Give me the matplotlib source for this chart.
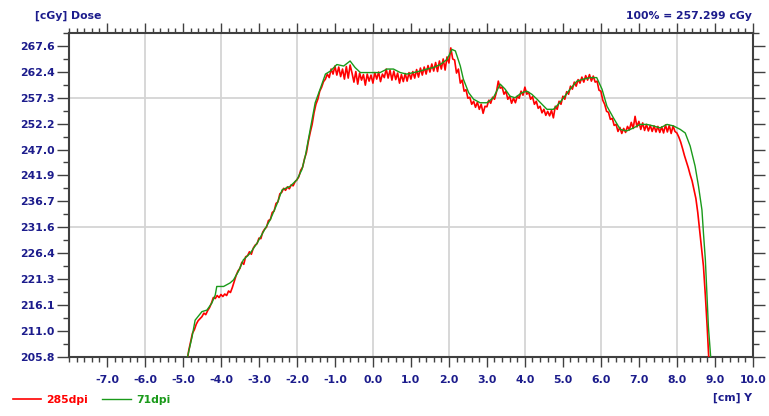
import numpy as np
import matplotlib
matplotlib.use("Agg")
import matplotlib.pyplot as plt
from matplotlib.ticker import FixedLocator, MultipleLocator

# normalisation shown top right
dose_100 = 257.299
pct_ticks = [80, 82, 84, 86, 88, 90, 92, 94, 96, 98, 100, 102, 104]
pct_minor = [81, 83, 85, 87, 89, 91, 93, 95, 97, 99, 101, 103, 105]
pct_grid = [90, 100]
x_ticks = [-7, -6, -5, -4, -3, -2, -1, 0, 1, 2, 3, 4, 5, 6, 7, 8, 9, 10]
x_grid = [-6, -4, -2, 0, 2, 4, 6, 8]

# 285dpi scan, sampled every 0.05 cm, one row per cm starting at -5.0
red_start = -5.0
red_step = 0.05
red_rows = [
    [203.0, 203.0, 204.5, 207.0, 208.8, 210.5, 211.2, 212.3, 213.0, 213.4,
     213.8, 214.5, 214.2, 215.0, 215.6, 216.5, 217.6, 217.4, 218.0, 217.6],
    [218.2, 217.8, 218.3, 218.0, 218.9, 218.6, 219.6, 220.8, 222.0, 222.9,
     223.4, 224.6, 224.2, 225.7, 225.9, 226.7, 226.2, 227.4, 228.0, 228.3],
    [229.4, 229.3, 230.6, 231.2, 231.6, 232.9, 233.1, 234.5, 234.8, 236.3,
     236.6, 238.2, 238.5, 239.3, 238.9, 239.6, 239.2, 240.0, 239.8, 240.6],
    [241.0, 241.6, 242.9, 243.5, 245.2, 246.4, 248.6, 250.4, 252.0, 254.3,
     256.0, 257.0, 258.6, 259.4, 260.5, 261.0, 262.0, 261.3, 263.0, 262.0],
    [263.6, 261.8, 263.4, 261.5, 263.0, 261.0, 263.5, 261.2, 263.8, 262.2,
     260.4, 262.5, 260.0, 262.2, 260.8, 261.9, 259.8, 262.0, 260.6, 261.8],
    [260.2, 262.3, 261.0, 262.4, 260.5, 262.0, 261.3, 263.0, 261.2, 262.8,
     260.8, 262.6, 260.9, 262.2, 260.2, 261.9, 260.5, 262.1, 260.6, 262.3],
    [261.0, 262.5, 261.2, 262.9, 261.4, 263.2, 261.8, 263.4, 262.0, 263.7,
     262.4, 264.0, 262.6, 264.3, 262.5, 264.6, 263.0, 265.0, 262.8, 265.4],
    [264.2, 267.2, 265.0, 264.8, 262.2, 263.0, 260.2, 260.8, 258.6, 258.9,
     257.2, 257.4, 256.0, 256.6, 255.4, 256.4, 255.0, 256.0, 254.2, 255.6],
    [255.5, 256.8, 256.2, 257.4, 257.0, 258.4, 260.6, 259.2, 259.4, 258.0,
     258.6, 257.0, 257.6, 256.2, 257.2, 256.3, 257.6, 257.2, 258.6, 257.8],
    [259.4, 258.0, 258.4, 257.0, 257.5, 256.0, 256.6, 255.2, 255.6, 254.3,
     255.0, 253.8, 254.6, 253.7, 254.8, 253.3, 255.6, 255.0, 256.6, 256.0],
    [257.6, 257.0, 258.5, 258.0, 259.6, 259.0, 260.4, 259.6, 260.9, 260.2,
     261.4, 260.4, 261.7, 260.8, 261.9, 260.6, 261.6, 260.4, 260.6, 258.8],
    [258.6, 256.8, 256.0, 254.6, 254.4, 253.0, 253.2, 251.8, 252.0, 250.6,
     251.4, 250.2, 251.2, 250.4, 251.6, 250.9, 252.4, 251.2, 253.6, 251.5],
    [252.6, 251.0, 252.3, 250.8, 252.0, 250.7, 251.8, 250.6, 251.7, 250.5,
     251.6, 250.4, 251.5, 250.3, 251.9, 250.5, 251.8, 250.2, 251.7, 250.6],
    [250.3, 249.5, 248.5, 247.2, 245.8, 244.6, 243.4, 242.0, 240.8, 239.0,
     237.3, 234.5, 231.0, 227.5, 223.8, 218.0, 211.5, 204.0, 203.0, 203.0],
]

# 71dpi scan
green_x = [-4.92, -4.88, -4.76, -4.68, -4.50, -4.37, -4.24, -4.15, -4.11, -3.93,
           -3.76, -3.67, -3.54, -3.41, -3.23, -3.05, -2.88, -2.70, -2.53, -2.39,
           -2.18, -2.00, -1.87, -1.78, -1.65, -1.52, -1.39, -1.25, -1.12, -0.95,
           -0.77, -0.60, -0.47, -0.33, -0.16, 0.02, 0.19, 0.37, 0.54, 0.72,
           0.89, 1.07, 1.24, 1.42, 1.59, 1.77, 1.95, 2.08, 2.17, 2.30,
           2.38, 2.52, 2.65, 2.82, 3.00, 3.17, 3.35, 3.48, 3.61, 3.74,
           3.92, 4.05, 4.18, 4.32, 4.45, 4.58, 4.75, 4.88, 5.02, 5.19,
           5.37, 5.54, 5.72, 5.89, 6.03, 6.16, 6.33, 6.51, 6.68, 6.86,
           7.03, 7.21, 7.38, 7.56, 7.74, 7.91, 8.09, 8.22, 8.35, 8.48,
           8.57, 8.66, 8.70, 8.75, 8.79, 8.83, 8.89, 8.92]
green_y = [204.0, 205.8, 209.8, 213.1, 214.8, 215.1, 216.5, 218.1, 219.8, 219.8,
           220.5, 221.1, 222.8, 225.1, 226.4, 228.4, 230.7, 233.1, 236.1, 239.0,
           239.7, 241.0, 243.0, 245.7, 251.0, 256.3, 259.0, 262.0, 262.6, 263.9,
           263.6, 264.6, 263.3, 262.3, 262.3, 262.3, 262.3, 263.0, 263.0, 262.3,
           262.0, 262.3, 262.6, 263.0, 263.3, 263.9, 264.9, 266.9, 266.6, 263.6,
           261.0, 258.3, 257.0, 256.3, 256.3, 257.3, 260.0, 259.0, 257.6, 257.3,
           258.3, 258.6, 258.0, 257.0, 256.0, 255.0, 255.0, 256.0, 257.3, 259.0,
           260.6, 261.0, 261.3, 261.3, 259.0, 255.6, 253.3, 251.0, 250.7, 251.3,
           252.0, 252.0, 251.7, 251.3, 252.0, 251.7, 251.0, 250.3, 247.7, 243.7,
           239.7, 235.0, 230.4, 225.1, 218.5, 211.8, 205.8, 204.0]

red_y = np.concatenate([np.array(r) for r in red_rows])
red_x = red_start + red_step * np.arange(len(red_y))

navy = "#1c1c8c"
red = "#ff0000"
green = "#1a9a1a"
frame = "#404040"

plt.rcParams["font.family"] = "DejaVu Sans"
plt.rcParams["font.weight"] = "bold"

fig = plt.figure(figsize=(7.69, 4.16), dpi=100)
ax = fig.add_axes([0.0897, 0.1425, 0.8893, 0.7782])

ax.plot(red_x, red_y, color=red, lw=1.2, label="285dpi", zorder=3)
ax.plot(green_x, green_y, color=green, lw=1.0, label="71dpi", zorder=4)

ax.set_xlim(-8, 10)
ax.set_ylim(0.80 * dose_100, 1.05 * dose_100)

ax.xaxis.set_major_locator(FixedLocator(x_ticks))
ax.xaxis.set_minor_locator(MultipleLocator(0.2))
ax.set_xticklabels(["%.1f" % v for v in x_ticks])
ax.yaxis.set_major_locator(FixedLocator([p / 100 * dose_100 for p in pct_ticks]))
ax.yaxis.set_minor_locator(FixedLocator([p / 100 * dose_100 for p in pct_minor]))
ax.set_yticklabels(["%.1f" % (p / 100 * dose_100) for p in pct_ticks])

for gx in x_grid:
    ax.axvline(gx, color="#d4d4d4", lw=1.3, zorder=1)
for gp in pct_grid:
    ax.axhline(gp / 100 * dose_100, color="#d4d4d4", lw=1.3, zorder=1)

ax.tick_params(axis="both", which="both", direction="out", top=True, right=True,
               color=frame, width=1.0, labelsize=7.8, labelcolor=navy)
ax.tick_params(axis="y", which="major", length=8.5, pad=2)
ax.tick_params(axis="y", which="minor", length=4.3)
ax.tick_params(axis="x", which="major", length=7.5, pad=5.5)
ax.tick_params(axis="x", which="minor", length=3.6)

for s in ax.spines.values():
    s.set_color(frame)
    s.set_linewidth(1.5)

fig.text(35 / 769, 1 - 16 / 416, "[cGy] Dose", color=navy, fontsize=7.8,
         fontweight="bold", ha="left", va="center")
fig.text(752 / 769, 1 - 16 / 416, "100% = 257.299 cGy", color=navy, fontsize=7.8,
         fontweight="bold", ha="right", va="center")
fig.text(752 / 769, 1 - 398 / 416, "[cm] Y", color=navy, fontsize=7.8,
         fontweight="bold", ha="right", va="center")

leg = fig.legend(loc="center left", bbox_to_anchor=(13 / 769, 1 - 400 / 416), ncol=2,
                 frameon=False, fontsize=7.8, handlelength=2.6, handletextpad=0.5,
                 columnspacing=1.3, borderpad=0, borderaxespad=0)
for txt, col in zip(leg.get_texts(), [red, green]):
    txt.set_color(col)

fig.savefig("out.png", dpi=100, facecolor="white")
